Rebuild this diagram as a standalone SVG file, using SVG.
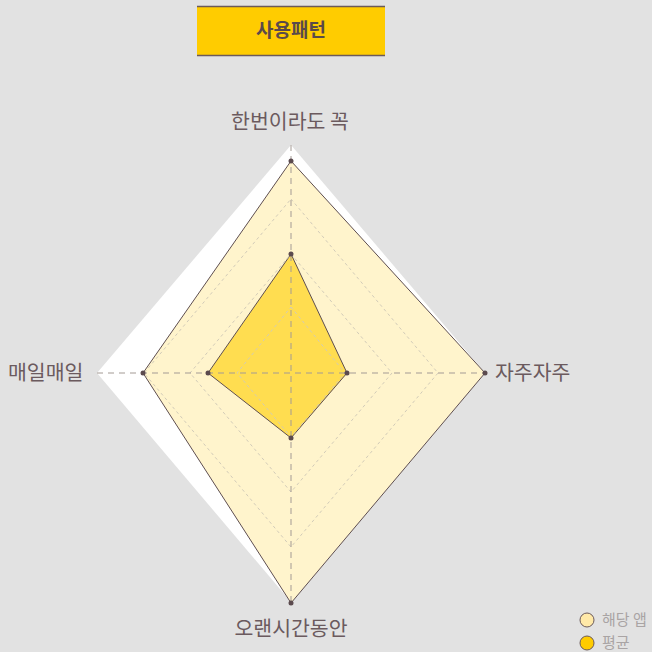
<svg xmlns="http://www.w3.org/2000/svg" width="652" height="652" viewBox="0 0 652 652">
<style>
.lbl{font-family:"Noto Sans CJK KR","Noto Sans",sans-serif;font-size:20.5px;fill:#6b5a5e}
.leg{font-family:"Noto Sans CJK KR","Noto Sans",sans-serif;font-size:15px;fill:#a9a4a4}
.grid{fill:none;stroke:#d2cbb8;stroke-width:1;stroke-dasharray:3 3}
.axis{stroke:#a39a94;stroke-width:1;stroke-dasharray:6 5}
.dot{fill:#5b4a4e}
</style>
<rect width="652" height="652" fill="#e2e2e2"/>
<g id="title">
<rect x="197" y="6" width="188" height="50" fill="#ffcc00"/>
<line x1="197" y1="6.5" x2="385" y2="6.5" stroke="#6b5a5a" stroke-width="1.5"/>
<line x1="197" y1="55.5" x2="385" y2="55.5" stroke="#6b5a5a" stroke-width="1.5"/>
<text x="291" y="37" text-anchor="middle" font-family="'Noto Sans CJK KR','Noto Sans',sans-serif" font-size="19" font-weight="bold" fill="#5a4a4a">사용패턴</text>
</g>
<g id="chart-bg">
<polygon points="291,145 485,373 291,602 97,373" fill="#ffffff"/>
</g>
<g id="series-app">
<polygon points="291,161 485,373 291,603 143,373" fill="#fff4cc" stroke="#5e4e50" stroke-width="1"/>
</g>
<g id="series-avg">
<polygon points="291,254 347,373 291,438 208,373" fill="#ffdd50" stroke="#5e4e50" stroke-width="1"/>
</g>
<g id="connectors">
<polygon class="grid" points="291,307 345,373 291,437 237,373"/>
<polygon class="grid" points="291,254 392,373 291,492 190,373"/>
<polygon class="grid" points="291,199 438,373 291,547 144,373"/>
<line class="axis" x1="291" y1="145" x2="291" y2="603"/>
<line class="axis" x1="97" y1="373" x2="485" y2="373"/>
</g>
<g id="points">
<circle class="dot" cx="291" cy="161" r="2.5"/>
<circle class="dot" cx="485" cy="373" r="2.5"/>
<circle class="dot" cx="291" cy="603" r="2.5"/>
<circle class="dot" cx="143" cy="373" r="2.5"/>
<circle class="dot" cx="291" cy="254" r="2.5"/>
<circle class="dot" cx="347" cy="373" r="2.5"/>
<circle class="dot" cx="291" cy="438" r="2.5"/>
<circle class="dot" cx="208" cy="373" r="2.5"/>
</g>
<g id="label-top"><text class="lbl" x="290" y="129" text-anchor="middle">한번이라도 꼭</text></g>
<g id="label-right"><text class="lbl" x="495" y="380">자주자주</text></g>
<g id="label-bottom"><text class="lbl" x="291" y="636" text-anchor="middle">오랜시간동안</text></g>
<g id="label-left"><text class="lbl" x="8" y="380">매일매일</text></g>
<g id="legend">
<circle cx="587" cy="620" r="7" fill="#ffe9a8" stroke="#6b5a5a" stroke-width="1"/>
<text class="leg" x="602" y="625">해당 앱</text>
<circle cx="587" cy="643" r="7" fill="#ffcc00" stroke="#6b5a5a" stroke-width="1"/>
<text class="leg" x="602" y="648">평균</text>
</g>
</svg>
